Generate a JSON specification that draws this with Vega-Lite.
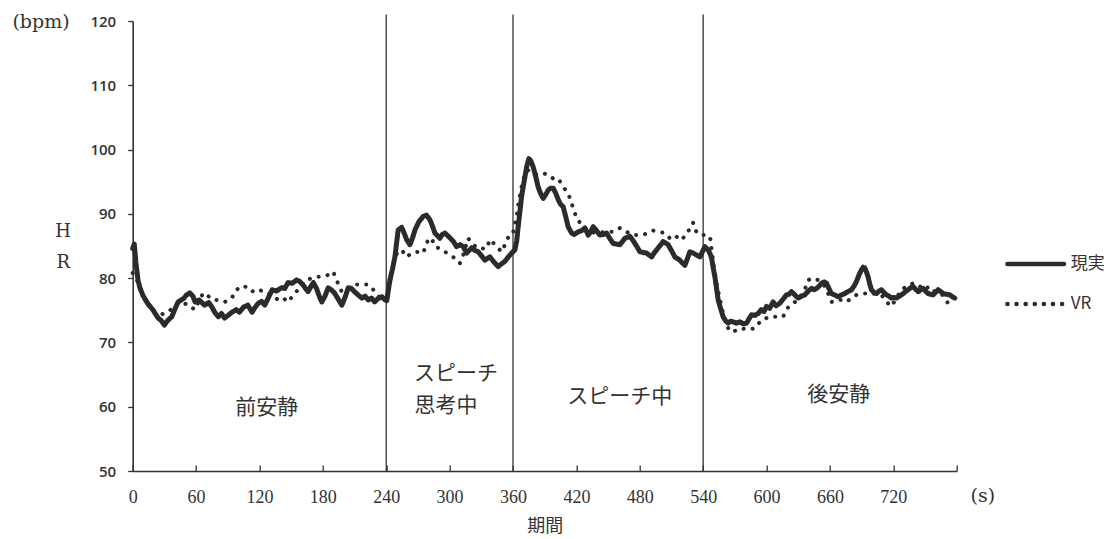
{
"$schema": "https://vega.github.io/schema/vega-lite/v6.json",
"width": 824, "height": 450,
"autosize": {"type": "none"},
"padding": {"left": 132.7, "top": 21, "right": 154.3, "bottom": 68},
"background": "white",
"config": {"view": {"stroke": null}},
"datasets": {
"real": [
{"t":0,"v":84.6},{"t":1.5,"v":85.3},{"t":3,"v":82.5},{"t":5,"v":79.7},{"t":7,"v":78.4},{"t":10,"v":77.2},{"t":14,"v":76.1},{"t":19,"v":75.1},{"t":24,"v":73.8},{"t":27,"v":73.4},{"t":30,"v":72.7},{"t":33,"v":73.4},{"t":37,"v":74},{"t":40,"v":75.2},{"t":43,"v":76.3},{"t":48,"v":76.8},{"t":51,"v":77.4},{"t":54,"v":77.7},{"t":57,"v":77.2},{"t":59,"v":76.3},{"t":63,"v":76.6},{"t":68,"v":75.8},{"t":72,"v":76.2},{"t":75,"v":75.5},{"t":78,"v":74.6},{"t":81,"v":74},{"t":84,"v":74.5},{"t":87,"v":73.8},{"t":91,"v":74.3},{"t":94,"v":74.7},{"t":98,"v":75.1},{"t":101,"v":74.7},{"t":105,"v":75.5},{"t":109,"v":75.8},{"t":113,"v":74.7},{"t":116,"v":75.5},{"t":119,"v":76.1},{"t":122,"v":76.4},{"t":125,"v":75.8},{"t":128,"v":76.8},{"t":132,"v":78.2},{"t":136,"v":78},{"t":141,"v":78.5},{"t":144,"v":78.4},{"t":147,"v":79.3},{"t":151,"v":79.2},{"t":155,"v":79.7},{"t":158,"v":79.5},{"t":161,"v":79},{"t":164,"v":78.3},{"t":166,"v":77.9},{"t":169,"v":78.8},{"t":171,"v":79.3},{"t":174,"v":78.4},{"t":177,"v":77},{"t":179,"v":76.3},{"t":182,"v":77.2},{"t":185,"v":78.5},{"t":188,"v":78.2},{"t":191,"v":77.7},{"t":195,"v":76.6},{"t":198,"v":75.8},{"t":201,"v":77},{"t":204,"v":78.5},{"t":207,"v":78.4},{"t":210,"v":77.9},{"t":214,"v":77.3},{"t":217,"v":76.9},{"t":220,"v":77.2},{"t":223,"v":76.6},{"t":226,"v":76.9},{"t":229,"v":76.3},{"t":232,"v":76.8},{"t":236,"v":77.1},{"t":239,"v":76.6},
{"t":240.5,"v":76.5},{"t":243.5,"v":79.7},{"t":246,"v":81.5},{"t":248.2,"v":83.3},{"t":251.3,"v":87.5},{"t":254.6,"v":87.9},{"t":257,"v":87},{"t":259.3,"v":86},{"t":262.4,"v":85.2},{"t":265,"v":86.3},{"t":267.2,"v":87.5},{"t":271,"v":88.8},{"t":275,"v":89.6},{"t":278,"v":89.8},{"t":281.3,"v":89.1},{"t":284,"v":88},{"t":286.1,"v":87},{"t":290.8,"v":86.2},{"t":293,"v":86.8},{"t":295.5,"v":87},{"t":299,"v":86.5},{"t":301.9,"v":86},{"t":304,"v":85.6},{"t":306.6,"v":84.9},{"t":310,"v":85.2},{"t":312.9,"v":84.9},{"t":316.1,"v":83.9},{"t":318.5,"v":84.3},{"t":320.8,"v":84.7},{"t":324,"v":84.3},{"t":327.1,"v":84.1},{"t":330,"v":83.5},{"t":333.4,"v":82.8},{"t":338.1,"v":83.3},{"t":342,"v":82.5},{"t":346,"v":81.8},{"t":349,"v":82.2},{"t":352.3,"v":82.6},{"t":355.5,"v":83.3},{"t":358.7,"v":83.9},{"t":361.8,"v":84.4},{"t":363.5,"v":85.8},{"t":364.9,"v":88},{"t":366.5,"v":90.3},{"t":368.1,"v":92.7},{"t":370.5,"v":95},{"t":372.9,"v":97.3},{"t":375,"v":98.6},{"t":377,"v":98.2},{"t":379.1,"v":97.3},{"t":381.5,"v":95.8},{"t":383.8,"v":94.2},{"t":386,"v":93.2},{"t":388.6,"v":92.4},{"t":391,"v":93},{"t":393.3,"v":93.7},{"t":395.5,"v":94},{"t":398,"v":94},{"t":400.5,"v":93.2},{"t":402.8,"v":92.2},{"t":405,"v":91.5},{"t":407.5,"v":91.1},{"t":410,"v":89.5},{"t":412.2,"v":88},{"t":415.5,"v":87},{"t":418,"v":86.8},{"t":421.7,"v":87.2},{"t":425,"v":87.4},{"t":428,"v":87.8},{"t":431.2,"v":86.7},{"t":433.5,"v":87.2},{"t":435.9,"v":88},{"t":439,"v":87.4},{"t":442.2,"v":86.7},{"t":445.5,"v":86.8},{"t":448.6,"v":87},{"t":451.5,"v":86.2},{"t":454.8,"v":85.4},{"t":458,"v":85.3},{"t":461.2,"v":85.2},{"t":465.9,"v":86.2},{"t":470.6,"v":86.5},{"t":473,"v":86},{"t":475.4,"v":85.4},{"t":478,"v":84.7},{"t":480.1,"v":84.1},{"t":483,"v":84},{"t":486.4,"v":83.9},{"t":491.2,"v":83.3},{"t":494,"v":84},{"t":497.4,"v":84.7},{"t":500,"v":85.2},{"t":502.1,"v":85.7},{"t":506.9,"v":85.2},{"t":510,"v":84.3},{"t":513.2,"v":83.3},{"t":517.9,"v":82.8},{"t":520,"v":82.4},{"t":522.7,"v":82},{"t":525,"v":83},{"t":527.4,"v":84.1},{"t":530.5,"v":83.9},{"t":533.7,"v":83.6},{"t":536.9,"v":83.3},{"t":539,"v":84},{"t":541.6,"v":84.9},{"t":544.7,"v":84.4},{"t":546.5,"v":83.8},{"t":548,"v":83.1},{"t":549.5,"v":81.6},{"t":551.1,"v":80.2},{"t":552.7,"v":78.4},{"t":554.2,"v":76.6},{"t":556.5,"v":75.3},{"t":558.9,"v":74},{"t":561,"v":73.4},{"t":563.7,"v":73},{"t":566,"v":73.3},{"t":568.4,"v":73.2},{"t":571.5,"v":73},{"t":574.7,"v":73.2},{"t":578,"v":72.9},{"t":581.1,"v":73},{"t":583.5,"v":73.7},{"t":585.8,"v":74.3},{"t":589,"v":74.2},{"t":592,"v":74.5},{"t":595,"v":75.1},{"t":597.5,"v":74.8},{"t":600,"v":75.6},{"t":603,"v":75.3},{"t":606.2,"v":76.3},{"t":609,"v":75.7},{"t":612.6,"v":76.1},{"t":616,"v":76.8},{"t":618.9,"v":77.4},{"t":621.3,"v":77.5},{"t":623.6,"v":77.9},{"t":626.8,"v":77.4},{"t":629.9,"v":76.9},{"t":633,"v":77.2},{"t":636.2,"v":77.4},{"t":639.5,"v":78},{"t":642.6,"v":78.4},{"t":645,"v":78.2},{"t":647.3,"v":78.4},{"t":650,"v":78.8},{"t":652,"v":79.2},{"t":654.5,"v":79.4},{"t":656.8,"v":79.2},{"t":659,"v":78.4},{"t":661.5,"v":77.6},{"t":664.5,"v":77.4},{"t":667.7,"v":77.1},{"t":671,"v":77.4},{"t":674.1,"v":77.6},{"t":677,"v":77.9},{"t":680.4,"v":78.2},{"t":683,"v":78.8},{"t":685.2,"v":79.5},{"t":687.5,"v":80.5},{"t":689.9,"v":81.3},{"t":691.5,"v":81.7},{"t":693,"v":81.6},{"t":694.5,"v":81},{"t":696.1,"v":80.2},{"t":697.7,"v":79.1},{"t":699.3,"v":78.2},{"t":701.5,"v":77.8},{"t":704.1,"v":77.6},{"t":706.5,"v":78},{"t":708.8,"v":78.2},{"t":711,"v":77.8},{"t":713.5,"v":77.4},{"t":716,"v":77.2},{"t":718.3,"v":76.9},{"t":721,"v":77},{"t":723,"v":76.9},{"t":726,"v":77.2},{"t":729.3,"v":77.6},{"t":731.5,"v":77.9},{"t":734,"v":78.2},{"t":736.5,"v":78.5},{"t":738.7,"v":78.7},{"t":741,"v":78.3},{"t":743.5,"v":77.9},{"t":746,"v":78.2},{"t":748.2,"v":78.4},{"t":750.5,"v":78},{"t":752.9,"v":77.6},{"t":755,"v":77.5},{"t":757.7,"v":77.4},{"t":760,"v":77.8},{"t":762.4,"v":78.2},{"t":765,"v":77.9},{"t":767.1,"v":77.6},{"t":770,"v":77.5},{"t":773.4,"v":77.4},{"t":776,"v":77.1},{"t":778.2,"v":76.9}
],
"vr": [
{"t":0,"v":80.8},{"t":2,"v":80.3},{"t":4,"v":79.7},{"t":7,"v":78.5},{"t":10,"v":77.4},{"t":14,"v":76},{"t":18,"v":75},{"t":22,"v":74.5},{"t":26,"v":74.2},{"t":30,"v":74.6},{"t":34,"v":74.8},{"t":38,"v":75.4},{"t":42,"v":76},{"t":46,"v":76.3},{"t":50,"v":76},{"t":52.6,"v":75.6},{"t":56,"v":75.4},{"t":59,"v":75.1},{"t":63,"v":76.5},{"t":66.8,"v":77.7},{"t":71.5,"v":77.2},{"t":76.3,"v":76.6},{"t":81,"v":76.6},{"t":87.3,"v":76.3},{"t":93.7,"v":76.9},{"t":98.4,"v":78.2},{"t":103.1,"v":78.8},{"t":107.9,"v":78.6},{"t":112.6,"v":77.9},{"t":118.9,"v":78.3},{"t":125.2,"v":77.7},{"t":131.5,"v":77.4},{"t":137.8,"v":76.6},{"t":142.5,"v":76.9},{"t":147.3,"v":76.3},{"t":152,"v":77.4},{"t":156.7,"v":78.2},{"t":160.5,"v":79},{"t":164.7,"v":79.7},{"t":169.4,"v":80},{"t":174.1,"v":80.2},{"t":178.9,"v":80.2},{"t":185.1,"v":80.5},{"t":189.8,"v":81},{"t":193,"v":79.7},{"t":197.8,"v":77.9},{"t":204,"v":78.2},{"t":208,"v":78.6},{"t":212,"v":79},{"t":216.7,"v":79},{"t":223,"v":79},{"t":227.7,"v":78.2},{"t":232.4,"v":77.2},{"t":237.2,"v":76.6},
{"t":240.5,"v":77},{"t":243.5,"v":79.5},{"t":247,"v":82.3},{"t":250.5,"v":84},{"t":254.5,"v":84.4},{"t":259.3,"v":83.3},{"t":264,"v":83.9},{"t":270.3,"v":84.1},{"t":275,"v":83.9},{"t":279.7,"v":86},{"t":283,"v":86.2},{"t":286.1,"v":84.9},{"t":290.8,"v":84.6},{"t":295.5,"v":84.1},{"t":300.3,"v":83.6},{"t":305,"v":83.1},{"t":309.7,"v":82.3},{"t":312.9,"v":83.6},{"t":317.6,"v":86.2},{"t":320.8,"v":85.4},{"t":327.1,"v":84.6},{"t":335,"v":84.6},{"t":338.1,"v":86},{"t":342.9,"v":85.2},{"t":349.2,"v":84.1},{"t":353.9,"v":85.7},{"t":357,"v":87},{"t":360.2,"v":87.2},{"t":363.4,"v":89.6},{"t":364.9,"v":91.4},{"t":368.1,"v":94.2},{"t":371.3,"v":96.3},{"t":374.5,"v":96.8},{"t":377.6,"v":96.6},{"t":380.5,"v":96.2},{"t":383.8,"v":96.1},{"t":388.6,"v":96.3},{"t":393.3,"v":96.1},{"t":398,"v":95.5},{"t":402.8,"v":95.5},{"t":407.5,"v":94.2},{"t":412.2,"v":93.2},{"t":415.5,"v":91.6},{"t":420.2,"v":89.3},{"t":426.4,"v":88},{"t":432.8,"v":87.2},{"t":439.1,"v":87},{"t":447,"v":87.2},{"t":454.8,"v":87.2},{"t":461.2,"v":87.8},{"t":467.5,"v":87.2},{"t":473.7,"v":86.7},{"t":481.7,"v":86.7},{"t":487.9,"v":87},{"t":492.7,"v":87.4},{"t":499,"v":87.2},{"t":503.7,"v":87},{"t":508.5,"v":86.2},{"t":513.2,"v":86},{"t":516.3,"v":86.7},{"t":521.1,"v":86.2},{"t":524.3,"v":87.2},{"t":528.1,"v":87.6},{"t":530.5,"v":88.6},{"t":532.1,"v":87.5},{"t":536.9,"v":86.7},{"t":541.6,"v":86.7},{"t":544.7,"v":86.7},{"t":547,"v":86},{"t":548,"v":84.4},{"t":550.5,"v":81.5},{"t":552.7,"v":79.2},{"t":555.5,"v":77},{"t":558.9,"v":74.5},{"t":562,"v":72.8},{"t":565.3,"v":71.7},{"t":570,"v":71.8},{"t":576.3,"v":72.2},{"t":582.6,"v":72},{"t":588.9,"v":72.2},{"t":595.2,"v":73.5},{"t":603.1,"v":74},{"t":609.4,"v":74},{"t":615.7,"v":74},{"t":618.9,"v":75.1},{"t":622,"v":75.8},{"t":627,"v":76.3},{"t":631.5,"v":76.9},{"t":636.2,"v":78.2},{"t":639.3,"v":79.7},{"t":644.1,"v":80},{"t":648.8,"v":79.7},{"t":653.5,"v":79.2},{"t":658.3,"v":77.6},{"t":661.5,"v":76.3},{"t":666.2,"v":76.6},{"t":671,"v":76.6},{"t":675.7,"v":76.3},{"t":680.4,"v":76.9},{"t":685.2,"v":77.4},{"t":689.9,"v":77.6},{"t":694.6,"v":77.6},{"t":700.9,"v":77.6},{"t":708.8,"v":77.4},{"t":713.5,"v":76.3},{"t":718.3,"v":75.6},{"t":723,"v":76.9},{"t":727.7,"v":78.2},{"t":732.5,"v":78.7},{"t":738.7,"v":79.2},{"t":743.5,"v":79},{"t":748.2,"v":78.2},{"t":754.5,"v":78.7},{"t":759.3,"v":77.9},{"t":765.6,"v":77.6},{"t":771.8,"v":76.1},{"t":776.6,"v":76.9}
],
"phases": [{"t":240},{"t":360},{"t":540}],
"labels": [
{"t":127,"v":59.8,"txt":"前安静"},
{"t":306,"v":65.1,"txt":"スピーチ"},
{"t":296.5,"v":60.1,"txt":"思考中"},
{"t":461,"v":61.5,"txt":"スピーチ中"},
{"t":668.4,"v":61.8,"txt":"後安静"}
],
"units": [
{"t":-86.8,"v":119.85,"txt":"(bpm)"},
{"t":804.7,"v":46.13,"txt":"(s)"}
]
},
"layer": [
{
"data": {"name": "phases"},
"mark": {"type": "rule", "color": "#333333", "strokeWidth": 1.3},
"encoding": {
"x": {"field": "t", "type": "quantitative"},
"y": {"datum": 50},
"y2": {"datum": 121}
}
},
{
"data": {"name": "real"},
"mark": {"type": "line", "strokeCap": "round", "strokeJoin": "round", "strokeWidth": 5},
"encoding": {
"x": {"field": "t", "type": "quantitative", "scale": {"domain": [0, 780], "nice": false, "zero": false},
"axis": {"values": [0,60,120,180,240,300,360,420,480,540,600,660,720,780], "labelExpr": "datum.value == 780 ? '' : datum.label",
"grid": false, "domainColor": "#333333", "domainWidth": 1.6, "tickColor": "#333333", "tickWidth": 1.3, "tickSize": -6, "labelPadding": 23,
"labelFont": "Liberation Serif", "labelFontSize": 18, "labelColor": "#333333", "labelFlush": false,
"title": "期間", "titleFont": "Noto Sans CJK JP", "titleFontSize": 18, "titleFontWeight": "normal", "titleColor": "#333333", "titlePadding": 11}},
"y": {"field": "v", "type": "quantitative", "scale": {"domain": [50, 120], "nice": false, "zero": false},
"axis": {"values": [50,60,70,80,90,100,110,120], "grid": false, "domainColor": "#333333", "domainWidth": 1.6, "tickColor": "#333333", "tickWidth": 1.3, "tickSize": 5, "labelPadding": 12,
"labelFont": "Open Sans", "labelFontSize": 15, "labelFontWeight": 600, "labelColor": "#333333",
"title": ["H", "R"], "titleAngle": 0, "titleFont": "DejaVu Serif", "titleFontSize": 18, "titleFontWeight": "normal", "titleColor": "#333333",
"titleX": -70, "titleY": 210, "titleAlign": "center", "titleBaseline": "middle", "titleLineHeight": 31}},
"color": {"datum": "現実", "type": "nominal", "scale": {"domain": ["現実", "VR"], "range": ["#2b2b2b", "#2b2b2b"]},
"legend": {"title": null, "orient": "none", "legendX": 872, "legendY": 212, "symbolType": "stroke", "symbolSize": 3200, "symbolStrokeWidth": 4.5,
"labelFont": "Noto Sans CJK JP", "labelFontSize": 17, "labelColor": "#333333", "rowPadding": 0, "labelOffset": 4,
"encode": {"symbols": {"update": {"strokeCap": {"value": "round"}}}}}},
"strokeDash": {"datum": "現実", "type": "nominal", "scale": {"domain": ["現実", "VR"], "range": [[1, 0], [0.1, 9]]},
"legend": {"title": null, "orient": "none", "legendX": 872, "legendY": 212, "symbolType": "stroke", "symbolSize": 3200, "symbolStrokeWidth": 4.5,
"labelFont": "Noto Sans CJK JP", "labelFontSize": 17, "labelColor": "#333333", "rowPadding": 0, "labelOffset": 4,
"encode": {"symbols": {"update": {"strokeCap": {"value": "round"}}}}}}
}
},
{
"data": {"name": "vr"},
"mark": {"type": "line", "strokeCap": "round", "strokeJoin": "round", "strokeWidth": 4, "strokeDash": [0.1, 6]},
"encoding": {
"x": {"field": "t", "type": "quantitative"},
"y": {"field": "v", "type": "quantitative"},
"color": {"datum": "VR", "type": "nominal"},
"strokeDash": {"datum": "VR", "type": "nominal"}
}
},
{
"data": {"name": "labels"},
"mark": {"type": "text", "font": "Noto Sans CJK JP", "fontSize": 21, "color": "#333333", "align": "center", "baseline": "middle"},
"encoding": {
"x": {"field": "t", "type": "quantitative"},
"y": {"field": "v", "type": "quantitative"},
"text": {"field": "txt", "type": "nominal"}
}
},
{
"data": {"name": "units"},
"mark": {"type": "text", "font": "DejaVu Serif", "fontSize": 19, "color": "#333333", "align": "center", "baseline": "middle"},
"encoding": {
"x": {"field": "t", "type": "quantitative"},
"y": {"field": "v", "type": "quantitative"},
"text": {"field": "txt", "type": "nominal"}
}
}
]
}
